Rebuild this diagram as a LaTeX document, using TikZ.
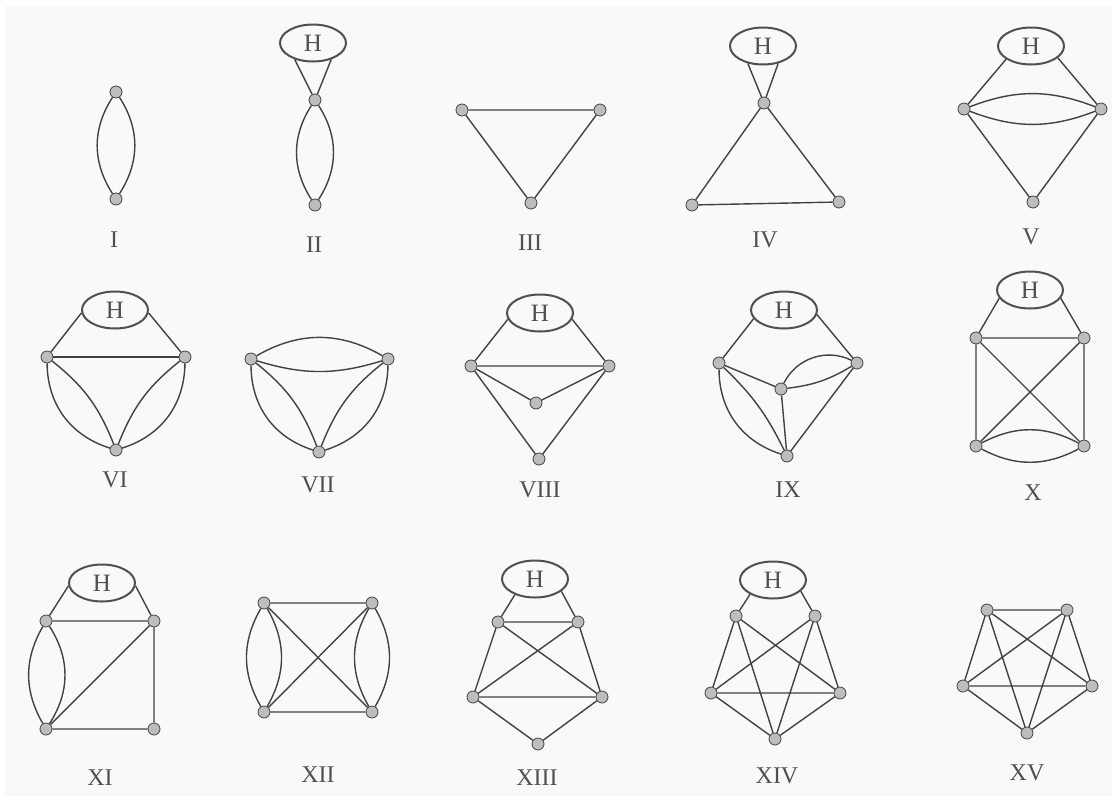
\documentclass[tikz,border=0pt]{standalone}
\usepackage{fontspec}
\setmainfont{Liberation Serif}
\usetikzlibrary{shapes.geometric}
\definecolor{bg}{HTML}{F9F9F9}
\definecolor{edgec}{HTML}{424242}
\definecolor{vfill}{HTML}{BDBDBD}
\definecolor{txt}{HTML}{505050}
\begin{document}
\begin{tikzpicture}[x=1pt,y=-1pt,
  vtx/.style={circle,inner sep=0pt,minimum size=12pt,fill=vfill,draw=edgec,line width=0.8pt},
  hbox/.style={ellipse,inner sep=0pt,minimum width=66pt,minimum height=37pt,draw=txt,line width=2pt,font=\fontsize{25}{25}\selectfont,text=txt},
  lbl/.style={font=\fontsize{24}{24}\selectfont,text=txt,inner sep=0pt},
  e/.style={draw=edgec,line width=1.4pt}]
\fill[white] (0,0) rectangle (1112,796);
\fill[bg] (5,6) rectangle (1112,796);

% I
\node[vtx] (a1) at (116,92) {};
\node[vtx] (b1) at (116,199) {};
\draw[e] (a1) to[bend left=33] (b1) (a1) to[bend right=33] (b1);
\node[lbl] (l1) at (114,240) {I};

% II
\node[hbox] (h2) at (313,43) {H};
\node[vtx] (a2) at (315,100) {};
\node[vtx] (b2) at (315,205) {};
\draw[e] (h2.222) -- (a2) (h2.318) -- (a2);
\draw[e] (a2) to[bend left=33] (b2) (a2) to[bend right=33] (b2);
\node[lbl] (l2) at (314,245) {II};

% III
\node[vtx] (a3) at (462,110) {};
\node[vtx] (b3) at (600,110) {};
\node[vtx] (c3) at (531,203) {};
\draw[e] (a3) -- (b3) -- (c3) -- (a3);
\node[lbl] (l3) at (530,243) {III};

% IV
\node[hbox] (h4) at (763,46) {H};
\node[vtx] (a4) at (764,103) {};
\node[vtx] (b4) at (692,205) {};
\node[vtx] (c4) at (839,202) {};
\draw[e] (h4.229) -- (a4) (h4.311) -- (a4);
\draw[e] (a4) -- (b4) -- (c4) -- (a4);
\node[lbl] (l4) at (765,240) {IV};

% V
\node[hbox] (h5) at (1031,46) {H};
\node[vtx] (a5) at (964,109) {};
\node[vtx] (b5) at (1101,109) {};
\node[vtx] (c5) at (1033,202) {};
\draw[e] (h5.208) -- (a5) (h5.336) -- (b5);
\draw[e] (a5) to[bend left=21] (b5) (a5) to[bend right=21] (b5);
\draw[e] (a5) -- (c5) -- (b5);
\node[lbl] (l5) at (1031,237) {V};

% VI
\node[hbox] (h6) at (115,310) {H};
\node[vtx] (a6) at (47,357) {};
\node[vtx] (b6) at (185,357) {};
\node[vtx] (c6) at (116,450) {};
\draw[e] (h6.185) -- (a6) (h6.355) -- (b6);
\draw[e] (a6) -- (b6);
\draw[e] (a6) to[bend right=36] (c6) (a6) to[bend left=15] (c6);
\draw[e] (b6) to[bend left=36] (c6) (b6) to[bend right=15] (c6);
\node[lbl] (l6) at (115,480) {VI};

% VII
\node[vtx] (a7) at (251,359) {};
\node[vtx] (b7) at (388,359) {};
\node[vtx] (c7) at (319,452) {};
\draw[e] (a7) to[bend left=30] (b7) (a7) to[bend right=17] (b7);
\draw[e] (a7) to[bend right=36] (c7) (a7) to[bend left=15] (c7);
\draw[e] (b7) to[bend left=36] (c7) (b7) to[bend right=15] (c7);
\node[lbl] (l7) at (318,485) {VII};

% VIII
\node[hbox] (h8) at (540,313) {H};
\node[vtx] (a8) at (471,366) {};
\node[vtx] (b8) at (609,366) {};
\node[vtx] (m8) at (536,403) {};
\node[vtx] (c8) at (539,459) {};
\draw[e] (h8.191) -- (a8) (h8.349) -- (b8);
\draw[e] (a8) -- (b8) (a8) -- (m8) -- (b8) (a8) -- (c8) -- (b8);
\node[lbl] (l8) at (540,490) {VIII};

% IX
\node[hbox] (h9) at (784,310) {H};
\node[vtx] (a9) at (719,363) {};
\node[vtx] (b9) at (857,363) {};
\node[vtx] (m9) at (781,389) {};
\node[vtx] (c9) at (787,456) {};
\draw[e] (h9.196) -- (a9) (h9.352) -- (b9);
\draw[e] (a9) -- (m9) -- (c9) -- (b9);
\draw[e] (m9) to[bend left=45] (b9) (m9) to[bend right=12] (b9);
\draw[e] (a9) to[bend right=36] (c9) (a9) to[bend left=10] (c9);
\node[lbl] (l9) at (788,490) {IX};

% X
\node[hbox] (h10) at (1030,290) {H};
\node[vtx] (a10) at (976,338) {};
\node[vtx] (b10) at (1084,338) {};
\node[vtx] (c10) at (976,446) {};
\node[vtx] (d10) at (1084,446) {};
\draw[e] (h10.195) -- (a10) (h10.345) -- (b10);
\draw[e] (a10) -- (b10) -- (d10) (a10) -- (c10) (a10) -- (d10) (b10) -- (c10);
\draw[e] (c10) to[bend left=28] (d10) (c10) to[bend right=28] (d10);
\node[lbl] (l10) at (1033,493) {X};

% XI
\node[hbox] (h11) at (102,583) {H};
\node[vtx] (a11) at (46,621) {};
\node[vtx] (b11) at (154,621) {};
\node[vtx] (c11) at (46,729) {};
\node[vtx] (d11) at (154,729) {};
\draw[e] (h11.185) -- (a11) (h11.355) -- (b11);
\draw[e] (a11) -- (b11) -- (d11) -- (c11) -- (b11);
\draw[e] (a11) to[bend left=33] (c11) (a11) to[bend right=30] (c11);
\node[lbl] (l11) at (100,778) {XI};

% XII
\node[vtx] (a12) at (264,603) {};
\node[vtx] (b12) at (372,603) {};
\node[vtx] (c12) at (264,712) {};
\node[vtx] (d12) at (372,712) {};
\draw[e] (a12) -- (b12) (c12) -- (d12) (a12) -- (d12) (b12) -- (c12);
\draw[e] (a12) to[bend left=30] (c12) (a12) to[bend right=30] (c12);
\draw[e] (b12) to[bend left=30] (d12) (b12) to[bend right=30] (d12);
\node[lbl] (l12) at (318,775) {XII};

% XIII
\node[hbox] (h13) at (535,579) {H};
\node[vtx] (a13) at (498,622) {};
\node[vtx] (b13) at (578,622) {};
\node[vtx] (c13) at (473,697) {};
\node[vtx] (d13) at (602,697) {};
\node[vtx] (f13) at (538,744) {};
\draw[e] (h13.218) -- (a13) (h13.335) -- (b13);
\draw[e] (a13) -- (b13) (a13) -- (c13) (b13) -- (d13) (a13) -- (d13) (b13) -- (c13)
  (c13) -- (d13) (c13) -- (f13) -- (d13);
\node[lbl] (l13) at (537,778) {XIII};

% XIV
\node[hbox] (h14) at (773,580) {H};
\node[vtx] (a14) at (736,616) {};
\node[vtx] (b14) at (815,616) {};
\node[vtx] (c14) at (711,693) {};
\node[vtx] (d14) at (840,693) {};
\node[vtx] (f14) at (775,739) {};
\draw[e] (h14.212) -- (a14) (h14.338) -- (b14);
\draw[e] (a14) -- (c14) (a14) -- (d14) (a14) -- (f14)
  (b14) -- (c14) (b14) -- (d14) (b14) -- (f14)
  (c14) -- (d14) (c14) -- (f14) (d14) -- (f14);
\node[lbl] (l14) at (777,776) {XIV};

% XV
\node[vtx] (a15) at (987,610) {};
\node[vtx] (b15) at (1067,610) {};
\node[vtx] (c15) at (963,686) {};
\node[vtx] (d15) at (1092,686) {};
\node[vtx] (f15) at (1027,733) {};
\draw[e] (a15) -- (b15) (a15) -- (c15) (a15) -- (d15) (a15) -- (f15)
  (b15) -- (c15) (b15) -- (d15) (b15) -- (f15)
  (c15) -- (d15) (c15) -- (f15) (d15) -- (f15);
\node[lbl] (l15) at (1027,773) {XV};
\end{tikzpicture}
\end{document}
